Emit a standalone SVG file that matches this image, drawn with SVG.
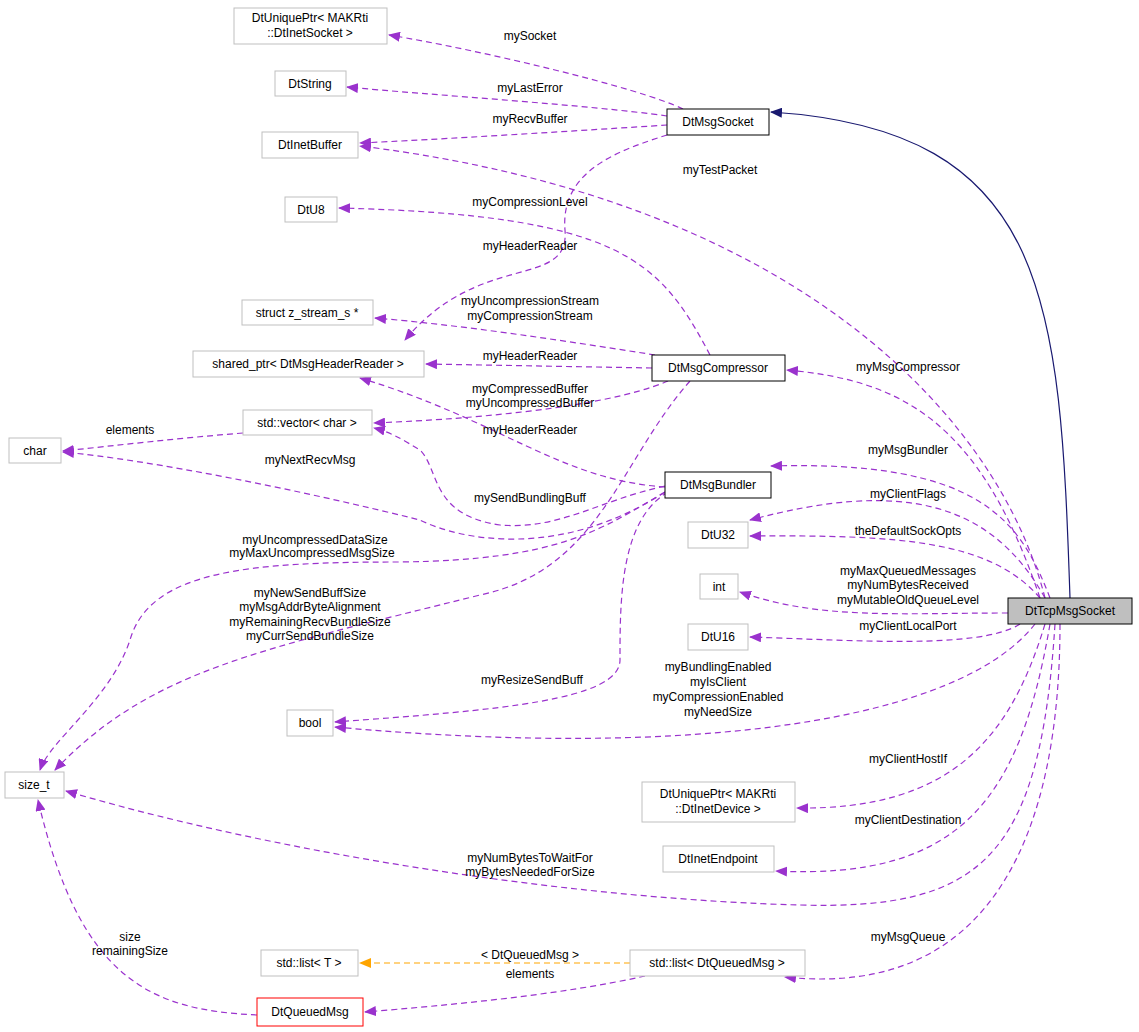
<svg xmlns="http://www.w3.org/2000/svg" width="1139" height="1032" viewBox="0 0 1139 1032">
<defs>
<style>
text{font-family:"Liberation Sans",Arial,sans-serif;font-size:12px;fill:#000;text-anchor:middle}
.n rect{fill:#fff;stroke:#bfbfbf;stroke-width:1}
.b rect{stroke:#000}
.e path{fill:none;stroke:#9a32cd;stroke-width:1.2;stroke-dasharray:6,4;marker-end:url(#ap)}
</style>
<marker id="ap" markerWidth="12" markerHeight="10" refX="11" refY="5" orient="auto" markerUnits="userSpaceOnUse"><path d="M0,0 L12,5 L0,10 z" fill="#9a32cd"/></marker>
<marker id="an" markerWidth="12" markerHeight="10" refX="11" refY="5" orient="auto" markerUnits="userSpaceOnUse"><path d="M0,0 L12,5 L0,10 z" fill="#191970"/></marker>
<marker id="ao" markerWidth="12" markerHeight="10" refX="11" refY="5" orient="auto" markerUnits="userSpaceOnUse"><path d="M0,0 L12,5 L0,10 z" fill="#ffa500"/></marker>
</defs>
<rect width="1139" height="1032" fill="#fff"/>
<g id="edges" class="e">
<path d="M683,109 C640,88 480,50 389,35"/>
<path d="M667,116 C590,105 430,95 347,87"/>
<path d="M667,125 C590,130 430,140 360,143"/>
<path d="M1045,598 C1000,420 800,200 360,146"/>
<path d="M710,355 C660,260 620,215 339,208"/>
<path d="M667,135 C620,150 560,170 565,230 C570,290 480,250 405,340"/>
<path d="M655,355 C560,340 460,325 375,318"/>
<path d="M652,368 L426,364"/>
<path d="M668,381 C600,410 450,420 374,423"/>
<path d="M665,487 C560,480 500,420 360,378"/>
<path d="M243,433 C180,438 120,445 63,451"/>
<path d="M665,492 C560,560 460,540 420,520 C300,490 150,460 63,452"/>
<path d="M665,486 C600,500 560,530 500,525 C430,515 440,470 420,450 C400,438 390,432 374,428"/>
<path d="M665,492 C600,530 560,560 400,562 C250,562 150,570 130,640 C110,700 50,740 40,770"/>
<path d="M690,381 C620,460 600,570 480,595 C260,650 150,670 55,770"/>
<path d="M668,492 C620,520 620,600 620,660 C620,700 500,710 335,722"/>
<path d="M1050,598 C1020,520 980,460 771,466"/>
<path d="M1045,598 C990,500 900,480 750,520"/>
<path d="M1040,598 C990,540 900,535 750,536"/>
<path d="M1008,613 C900,613 820,620 740,592"/>
<path d="M1020,624 C980,650 850,640 750,637"/>
<path d="M1035,624 C960,720 700,760 335,727"/>
<path d="M1045,624 C1010,740 950,810 797,808"/>
<path d="M1050,624 C1020,800 960,880 776,871"/>
<path d="M1055,624 C1040,860 980,910 800,905 C600,900 300,860 66,791"/>
<path d="M1060,624 C1060,820 1000,1000 785,977"/>
<path d="M645,976 C560,995 450,1005 365,1012"/>
<path d="M257,1015 C150,1010 80,980 38,800"/>
<path d="M1040,598 C980,420 900,380 787,370"/>
<path d="M630,963 L360,963" style="stroke:#ffa500;marker-end:url(#ao)"/>
<path d="M1070,598 C1060,300 1050,130 771,112" style="stroke:#191970;stroke-dasharray:none;marker-end:url(#an)"/>
</g>
<g id="labels">
<text x="530" y="40">mySocket</text>
<text x="530" y="92">myLastError</text>
<text x="530" y="123">myRecvBuffer</text>
<text x="720" y="174">myTestPacket</text>
<text x="530" y="206">myCompressionLevel</text>
<text x="530" y="250">myHeaderReader</text>
<text x="530" y="305">myUncompressionStream</text>
<text x="530" y="320">myCompressionStream</text>
<text x="530" y="360">myHeaderReader</text>
<text x="530" y="393">myCompressedBuffer</text>
<text x="530" y="407">myUncompressedBuffer</text>
<text x="530" y="434">myHeaderReader</text>
<text x="130" y="434">elements</text>
<text x="310" y="464">myNextRecvMsg</text>
<text x="530" y="502">mySendBundlingBuff</text>
<text x="315" y="544">myUncompressedDataSize</text>
<text x="312" y="557">myMaxUncompressedMsgSize</text>
<text x="310" y="597">myNewSendBuffSize</text>
<text x="310" y="611">myMsgAddrByteAlignment</text>
<text x="310" y="626">myRemainingRecvBundleSize</text>
<text x="310" y="640">myCurrSendBundleSize</text>
<text x="532" y="684">myResizeSendBuff</text>
<text x="908" y="371">myMsgCompressor</text>
<text x="908" y="454">myMsgBundler</text>
<text x="908" y="498">myClientFlags</text>
<text x="908" y="535">theDefaultSockOpts</text>
<text x="908" y="575">myMaxQueuedMessages</text>
<text x="908" y="589">myNumBytesReceived</text>
<text x="908" y="604">myMutableOldQueueLevel</text>
<text x="908" y="630">myClientLocalPort</text>
<text x="718" y="671">myBundlingEnabled</text>
<text x="718" y="686">myIsClient</text>
<text x="718" y="701">myCompressionEnabled</text>
<text x="718" y="716">myNeedSize</text>
<text x="908" y="763">myClientHostIf</text>
<text x="908" y="824">myClientDestination</text>
<text x="530" y="862">myNumBytesToWaitFor</text>
<text x="530" y="876">myBytesNeededForSize</text>
<text x="908" y="941">myMsgQueue</text>
<text x="530" y="959">&lt; DtQueuedMsg &gt;</text>
<text x="530" y="978">elements</text>
<text x="130" y="941">size</text>
<text x="130" y="955">remainingSize</text>
</g>
<g id="n_uniqsock" class="n"><rect x="234" y="8" width="153" height="36"/><text x="310" y="22">DtUniquePtr&lt; MAKRti</text><text x="310" y="37">::DtInetSocket &gt;</text></g>
<g id="n_string" class="n"><rect x="275" y="71" width="71" height="25"/><text x="310" y="88">DtString</text></g>
<g id="n_inetbuf" class="n"><rect x="262" y="132" width="96" height="26"/><text x="310" y="149">DtInetBuffer</text></g>
<g id="n_u8" class="n"><rect x="285" y="197" width="52" height="25"/><text x="311" y="214">DtU8</text></g>
<g id="n_zs" class="n"><rect x="242" y="300" width="131" height="25"/><text x="307" y="317">struct z_stream_s *</text></g>
<g id="n_sp" class="n"><rect x="193" y="351" width="231" height="26"/><text x="308" y="368">shared_ptr&lt; DtMsgHeaderReader &gt;</text></g>
<g id="n_vec" class="n"><rect x="243" y="410" width="129" height="25"/><text x="307" y="427">std::vector&lt; char &gt;</text></g>
<g id="n_char" class="n"><rect x="9" y="438" width="52" height="25"/><text x="35" y="455">char</text></g>
<g id="n_size" class="n"><rect x="5" y="772" width="59" height="26"/><text x="34" y="789">size_t</text></g>
<g id="n_msgsock" class="n b"><rect x="667" y="109" width="102" height="26"/><text x="718" y="126">DtMsgSocket</text></g>
<g id="n_comp" class="n b"><rect x="652" y="355" width="133" height="26"/><text x="718" y="372">DtMsgCompressor</text></g>
<g id="n_bund" class="n b"><rect x="665" y="472" width="106" height="26"/><text x="718" y="489">DtMsgBundler</text></g>
<g id="n_u32" class="n"><rect x="688" y="522" width="60" height="26"/><text x="718" y="539">DtU32</text></g>
<g id="n_int" class="n"><rect x="700" y="574" width="38" height="25"/><text x="719" y="591">int</text></g>
<g id="n_u16" class="n"><rect x="688" y="624" width="60" height="26"/><text x="718" y="641">DtU16</text></g>
<g id="n_bool" class="n"><rect x="287" y="710" width="46" height="26"/><text x="310" y="727">bool</text></g>
<g id="n_uniqdev" class="n"><rect x="642" y="782" width="153" height="40"/><text x="718" y="798">DtUniquePtr&lt; MAKRti</text><text x="718" y="813">::DtInetDevice &gt;</text></g>
<g id="n_endp" class="n"><rect x="663" y="846" width="111" height="26"/><text x="718" y="863">DtInetEndpoint</text></g>
<g id="n_tcp" class="n b"><rect x="1008" y="598" width="124" height="26" style="fill:#bfbfbf"/><text x="1070" y="615">DtTcpMsgSocket</text></g>
<g id="n_listT" class="n"><rect x="261" y="950" width="97" height="26"/><text x="309" y="967">std::list&lt; T &gt;</text></g>
<g id="n_listQ" class="n"><rect x="630" y="950" width="175" height="26"/><text x="717" y="967">std::list&lt; DtQueuedMsg &gt;</text></g>
<g id="n_qmsg" class="n"><rect x="257" y="998" width="106" height="28" style="stroke:#ff0000"/><text x="310" y="1016">DtQueuedMsg</text></g>
</svg>
